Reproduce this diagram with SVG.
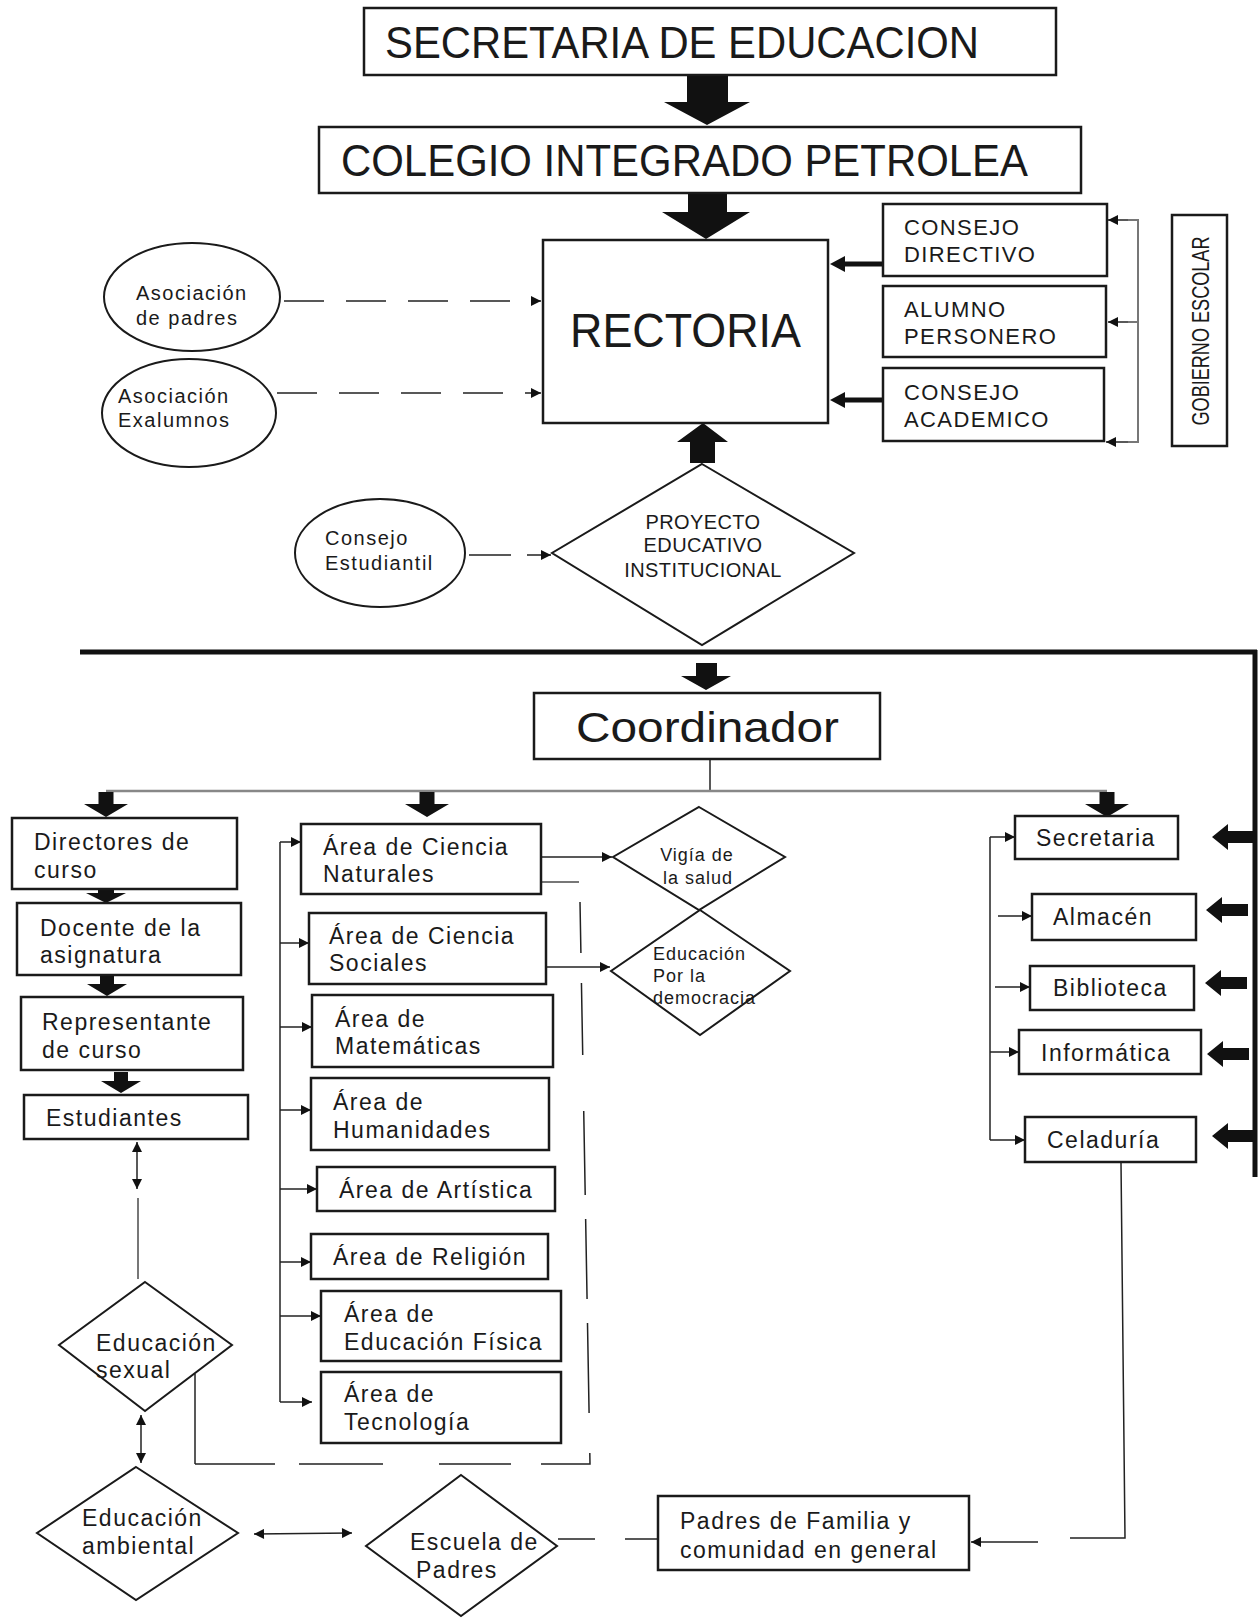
<svg xmlns="http://www.w3.org/2000/svg" xmlns:xlink="http://www.w3.org/1999/xlink" width="1259" height="1619" viewBox="0 0 1259 1619">
<style>
.box{fill:#fff;stroke:#1a1a1a;stroke-width:2.5}
.shp{fill:#fff;stroke:#1a1a1a;stroke-width:2}
.t{font-family:"Liberation Sans",Arial,sans-serif;fill:#1a1a1a}
.b{font-size:23px;letter-spacing:1.5px}
.caps{font-size:22px;letter-spacing:1.4px}
.sm{font-size:18px;letter-spacing:1px}
.el{font-size:20px;letter-spacing:1.5px}
.pei{font-size:20px;letter-spacing:0.4px}
.ln{stroke:#222;stroke-width:1.5;fill:none}
.gr{stroke:#777;stroke-width:2;fill:none}
.blk{fill:#111;stroke:none}
.arr{marker-end:url(#ah)}
.dbl{marker-start:url(#ah);marker-end:url(#ah)}
</style>
<defs>
<marker id="ah" viewBox="0 0 10 10" refX="10" refY="5" markerWidth="12" markerHeight="10" markerUnits="userSpaceOnUse" orient="auto-start-reverse">
<path d="M0,0 L10,5 L0,10 Z" fill="#111"/>
</marker>
<path id="dn" d="M-7.5,0 H7.5 V12 H22 L0,25 L-22,12 H-7.5 Z"/>
<path id="lt" d="M0,0 L16,-13 V-6 H42 V6 H16 V13 Z"/>
</defs>
<rect width="1259" height="1619" fill="#fff"/>

<g id="connectors">
<path class="blk" d="M687,76 H728 V102 H750 L707,125 L664,102 H687 Z"/>
<path class="blk" d="M688,194 H727 V212 H750 L706,239 L662,212 H688 Z"/>
<path class="blk" d="M690,463 H715 V442 H728 L703,423 L677,442 H690 Z"/>
<line x1="284" y1="301" x2="541" y2="301" class="ln arr" stroke-dasharray="40 22"/>
<line x1="277" y1="393" x2="541" y2="393" class="ln arr" stroke-dasharray="40 22"/>
<line x1="469" y1="555" x2="551" y2="555" class="ln arr" stroke-dasharray="42 16"/>
<line x1="883" y1="264" x2="842" y2="264" stroke="#111" stroke-width="5"/>
<path class="blk" d="M830,264 L845,256 V272 Z"/>
<line x1="883" y1="400" x2="842" y2="400" stroke="#111" stroke-width="5"/>
<path class="blk" d="M830,400 L845,392 V408 Z"/>
<path class="gr" d="M1128,220 H1138 V442 H1128" stroke-width="1.5"/>
<line x1="1138" y1="322" x2="1128" y2="322" class="gr" stroke-width="1.5"/>
<line x1="1128" y1="220" x2="1108" y2="220" class="ln arr"/>
<line x1="1128" y1="322" x2="1108" y2="322" class="ln arr"/>
<line x1="1128" y1="442" x2="1106" y2="442" class="ln arr"/>
<line x1="80" y1="652" x2="1257" y2="652" stroke="#111" stroke-width="5"/>
<line x1="1255" y1="650" x2="1255" y2="1177" stroke="#111" stroke-width="5"/>
<path class="blk" d="M696,663 H717 V676 H731 L706,690 L681,676 H696 Z"/>
<line x1="710" y1="759" x2="710" y2="791" class="ln"/>
<line x1="106" y1="791" x2="1107" y2="791" stroke="#888" stroke-width="2.5"/>
<use xlink:href="#dn" class="blk" transform="translate(106,792)"/>
<use xlink:href="#dn" class="blk" transform="translate(427,792)"/>
<use xlink:href="#dn" class="blk" transform="translate(1107,792)"/>
<path class="blk" d="M98,888 H114 V893 H126 L106,903 L86,893 H98 Z"/>
<path class="blk" d="M100,975 H114 V984 H127 L107,996 L87,984 H100 Z"/>
<path class="blk" d="M114,1072 H128 V1081 H141 L121,1093 L101,1081 H114 Z"/>
<line x1="137" y1="1142" x2="137" y2="1189" class="ln dbl"/>
<line x1="138" y1="1198" x2="138" y2="1279" class="gr" stroke-width="1.5"/>
<line x1="141" y1="1415" x2="141" y2="1463" class="ln dbl"/>
<line x1="254" y1="1534" x2="352" y2="1533" class="ln dbl"/>
<line x1="195" y1="1374" x2="195" y2="1464" class="ln"/>
<path d="M195,1464 H590 L580,902" class="ln" stroke-dasharray="80 24 84 56 72 30 60 40 90 24"/>
<line x1="541" y1="882" x2="579" y2="882" class="gr"/>
<line x1="541" y1="857" x2="612" y2="857" class="ln arr"/>
<line x1="546" y1="967" x2="610" y2="967" class="ln arr"/>
<line x1="280" y1="842" x2="280" y2="1402" class="ln"/>
<line x1="280" y1="842" x2="301" y2="842" class="ln arr"/>
<line x1="280" y1="943" x2="309" y2="943" class="ln arr"/>
<line x1="280" y1="1027" x2="312" y2="1027" class="ln arr"/>
<line x1="280" y1="1110" x2="311" y2="1110" class="ln arr"/>
<line x1="280" y1="1189" x2="317" y2="1189" class="ln arr"/>
<line x1="280" y1="1262" x2="311" y2="1262" class="ln arr"/>
<line x1="280" y1="1316" x2="321" y2="1316" class="ln arr"/>
<line x1="280" y1="1402" x2="312" y2="1402" class="ln arr"/>
<line x1="990" y1="837" x2="990" y2="1140" class="ln"/>
<line x1="990" y1="837" x2="1015" y2="837" class="ln arr"/>
<line x1="998" y1="916" x2="1032" y2="916" class="ln arr"/>
<line x1="995" y1="987" x2="1030" y2="987" class="ln arr"/>
<line x1="990" y1="1052" x2="1019" y2="1052" class="ln arr"/>
<line x1="990" y1="1140" x2="1025" y2="1140" class="ln arr"/>
<use xlink:href="#lt" class="blk" transform="translate(1212,837)"/>
<use xlink:href="#lt" class="blk" transform="translate(1206,910)"/>
<use xlink:href="#lt" class="blk" transform="translate(1205,983)"/>
<use xlink:href="#lt" class="blk" transform="translate(1207,1054)"/>
<use xlink:href="#lt" class="blk" transform="translate(1212,1136)"/>
<path d="M1121,1163 L1125,1538 H1070" class="ln"/>
<line x1="1038" y1="1542" x2="971" y2="1542" class="ln arr"/>
<line x1="558" y1="1539" x2="657" y2="1539" class="ln" stroke-dasharray="37 30"/>
</g>

<g id="secretaria-educacion">
<rect class="box" x="364" y="8" width="692" height="67"/>
<text class="t" x="385" y="58" font-size="44" textLength="594" lengthAdjust="spacingAndGlyphs">SECRETARIA DE EDUCACION</text>
</g>
<g id="colegio">
<rect class="box" x="319" y="127" width="762" height="66"/>
<text class="t" x="341" y="176" font-size="44" textLength="687" lengthAdjust="spacingAndGlyphs">COLEGIO INTEGRADO PETROLEA</text>
</g>
<g id="rectoria">
<rect class="box" x="543" y="240" width="285" height="183"/>
<text class="t" x="570" y="347" font-size="49" textLength="231" lengthAdjust="spacingAndGlyphs">RECTORIA</text>
</g>
<g id="consejo-directivo">
<rect class="box" x="883" y="204" width="224" height="72"/>
<text class="t caps" x="904" y="235">CONSEJO</text>
<text class="t caps" x="904" y="262">DIRECTIVO</text>
</g>
<g id="alumno-personero">
<rect class="box" x="883" y="286" width="223" height="71"/>
<text class="t caps" x="904" y="317">ALUMNO</text>
<text class="t caps" x="904" y="344">PERSONERO</text>
</g>
<g id="consejo-academico">
<rect class="box" x="883" y="368" width="221" height="73"/>
<text class="t caps" x="904" y="400">CONSEJO</text>
<text class="t caps" x="904" y="427">ACADEMICO</text>
</g>
<g id="gobierno-escolar">
<rect class="box" x="1172" y="215" width="55" height="231"/>
<text class="t" font-size="24" text-anchor="middle" textLength="189" lengthAdjust="spacingAndGlyphs" transform="translate(1209,331) rotate(-90)">GOBIERNO ESCOLAR</text>
</g>
<g id="asociacion-padres">
<ellipse class="shp" cx="192" cy="297" rx="88" ry="54"/>
<text class="t el" x="136" y="300">Asociación</text>
<text class="t el" x="136" y="325">de padres</text>
</g>
<g id="asociacion-exalumnos">
<ellipse class="shp" cx="189" cy="413" rx="87" ry="54"/>
<text class="t el" x="118" y="403">Asociación</text>
<text class="t el" x="118" y="427">Exalumnos</text>
</g>
<g id="consejo-estudiantil">
<ellipse class="shp" cx="380" cy="553" rx="85" ry="54"/>
<text class="t el" x="325" y="545">Consejo</text>
<text class="t el" x="325" y="570">Estudiantil</text>
</g>
<g id="pei">
<polygon class="shp" points="702,464 854,553 702,645 552,553"/>
<text class="t pei" text-anchor="middle" x="703" y="529">PROYECTO</text>
<text class="t pei" text-anchor="middle" x="703" y="552">EDUCATIVO</text>
<text class="t pei" text-anchor="middle" x="703" y="577">INSTITUCIONAL</text>
</g>
<g id="coordinador">
<rect class="box" x="534" y="693" width="346" height="66"/>
<text class="t" x="576" y="742" font-size="43" textLength="263" lengthAdjust="spacingAndGlyphs">Coordinador</text>
</g>
<g id="directores">
<rect class="box" x="12" y="818" width="225" height="71"/>
<text class="t b" x="34" y="850">Directores de</text>
<text class="t b" x="34" y="878">curso</text>
</g>
<g id="docente">
<rect class="box" x="17" y="903" width="224" height="72"/>
<text class="t b" x="40" y="936">Docente de la</text>
<text class="t b" x="40" y="963">asignatura</text>
</g>
<g id="representante">
<rect class="box" x="21" y="997" width="222" height="73"/>
<text class="t b" x="42" y="1030">Representante</text>
<text class="t b" x="42" y="1058">de curso</text>
</g>
<g id="estudiantes">
<rect class="box" x="24" y="1095" width="224" height="44"/>
<text class="t b" x="46" y="1126">Estudiantes</text>
</g>
<g id="educacion-sexual">
<polygon class="shp" points="145,1282 232,1345 145,1411 59,1345"/>
<text class="t b" x="96" y="1351">Educación</text>
<text class="t b" x="96" y="1378">sexual</text>
</g>
<g id="educacion-ambiental">
<polygon class="shp" points="136,1467 238,1533 136,1600 37,1533"/>
<text class="t b" x="82" y="1526">Educación</text>
<text class="t b" x="82" y="1554">ambiental</text>
</g>
<g id="escuela-padres">
<polygon class="shp" points="461,1475 557,1546 461,1616 366,1546"/>
<text class="t b" x="410" y="1550">Escuela de</text>
<text class="t b" x="416" y="1578">Padres</text>
</g>
<g id="padres-familia">
<rect class="box" x="658" y="1496" width="311" height="74"/>
<text class="t b" x="680" y="1529">Padres de Familia y</text>
<text class="t b" x="680" y="1558">comunidad en general</text>
</g>
<g id="area-naturales">
<rect class="box" x="301" y="824" width="240" height="70"/>
<text class="t b" x="323" y="855">Área de Ciencia</text>
<text class="t b" x="323" y="882">Naturales</text>
</g>
<g id="area-sociales">
<rect class="box" x="309" y="913" width="237" height="71"/>
<text class="t b" x="329" y="944">Área de Ciencia</text>
<text class="t b" x="329" y="971">Sociales</text>
</g>
<g id="area-matematicas">
<rect class="box" x="312" y="995" width="241" height="72"/>
<text class="t b" x="335" y="1027">Área de</text>
<text class="t b" x="335" y="1054">Matemáticas</text>
</g>
<g id="area-humanidades">
<rect class="box" x="311" y="1078" width="238" height="72"/>
<text class="t b" x="333" y="1110">Área de</text>
<text class="t b" x="333" y="1138">Humanidades</text>
</g>
<g id="area-artistica">
<rect class="box" x="317" y="1167" width="238" height="44"/>
<text class="t b" x="339" y="1198">Área de Artística</text>
</g>
<g id="area-religion">
<rect class="box" x="311" y="1234" width="237" height="45"/>
<text class="t b" x="333" y="1265">Área de Religión</text>
</g>
<g id="area-educacion-fisica">
<rect class="box" x="321" y="1291" width="240" height="70"/>
<text class="t b" x="344" y="1322">Área de</text>
<text class="t b" x="344" y="1350">Educación Física</text>
</g>
<g id="area-tecnologia">
<rect class="box" x="321" y="1372" width="240" height="71"/>
<text class="t b" x="344" y="1402">Área de</text>
<text class="t b" x="344" y="1430">Tecnología</text>
</g>
<g id="vigia-salud">
<polygon class="shp" points="699,807 785,857 699,910 613,857"/>
<text class="t sm" x="697" y="861" text-anchor="middle">Vigía de</text>
<text class="t sm" x="698" y="884" text-anchor="middle">la salud</text>
</g>
<g id="educacion-democracia">
<polygon class="shp" points="700,910 790,971 700,1035 611,971"/>
<text class="t sm" x="653" y="960">Educación</text>
<text class="t sm" x="653" y="982">Por la</text>
<text class="t sm" x="653" y="1004">democracia</text>
</g>
<g id="secretaria">
<rect class="box" x="1015" y="816" width="163" height="43"/>
<text class="t b" x="1036" y="846">Secretaria</text>
</g>
<g id="almacen">
<rect class="box" x="1032" y="894" width="164" height="46"/>
<text class="t b" x="1053" y="925">Almacén</text>
</g>
<g id="biblioteca">
<rect class="box" x="1030" y="966" width="164" height="44"/>
<text class="t b" x="1053" y="996">Biblioteca</text>
</g>
<g id="informatica">
<rect class="box" x="1019" y="1030" width="182" height="44"/>
<text class="t b" x="1041" y="1061">Informática</text>
</g>
<g id="celaduria">
<rect class="box" x="1025" y="1117" width="171" height="45"/>
<text class="t b" x="1047" y="1148">Celaduría</text>
</g>
</svg>
